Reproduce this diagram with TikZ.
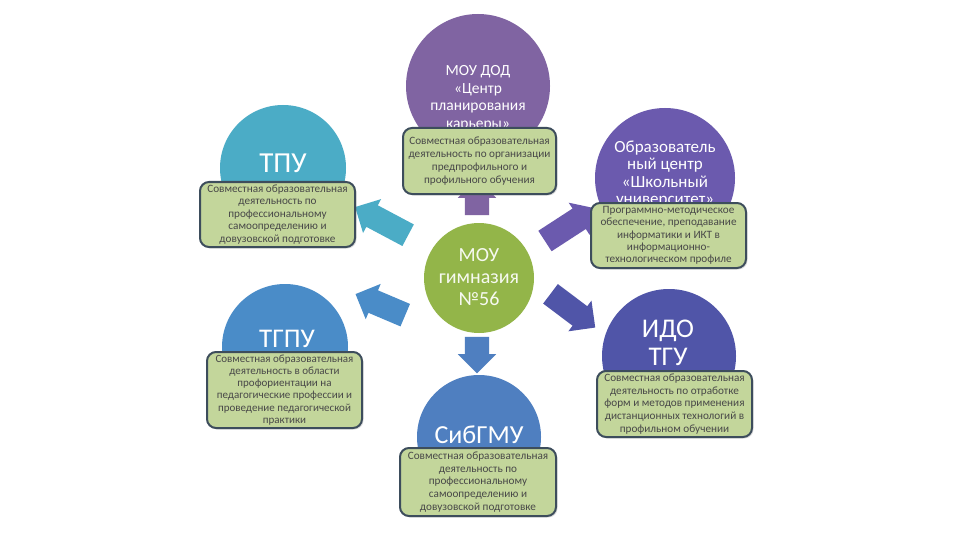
\documentclass[tikz,border=0pt]{standalone}
\usepackage{fontspec}
\setmainfont{Carlito}
\usetikzlibrary{shapes.arrows,shadows}
\definecolor{cgreen}{HTML}{93B549}
\definecolor{cpurple}{HTML}{8064A2}
\definecolor{cteal}{HTML}{4BACC6}
\definecolor{cviolet}{HTML}{6B5AAE}
\definecolor{cblue}{HTML}{4A8CC8}
\definecolor{cindigo}{HTML}{5055A8}
\definecolor{cblue2}{HTML}{4F7FC0}
\definecolor{boxfill}{HTML}{C3D69B}
\definecolor{boxline}{HTML}{3D4D5C}
\definecolor{boxtext}{HTML}{484848}
\tikzset{
  disc/.style={circle, draw=none, fill=#1, inner sep=0pt},
  blk/.style={single arrow, draw=none, fill=#1, inner sep=12pt, single arrow head extend=7pt, minimum height=60pt},
  infobox/.style={rectangle, rounded corners=9pt, draw=boxline, line width=2pt, fill=boxfill,
    text=boxtext, align=center, inner sep=1pt, font=\fontsize{11.2}{13}\selectfont,
    drop shadow={opacity=0.25, shadow xshift=1.5pt, shadow yshift=-1.5pt}},
  bigtxt/.style={text=white, align=center, font=\fontsize{27}{28}\selectfont},
  midtxt/.style={text=white, align=center},
}
\begin{document}
\begin{tikzpicture}[x=1pt,y=-1pt]
\useasboundingbox[fill=white] (0,0) rectangle (960,540);
% outer circles
\node[disc=cpurple, minimum size=144pt] (ctop) at (478,86) {};
\node[disc=cteal, minimum size=126pt] (ctpu) at (283,168) {};
\node[disc=cviolet, minimum size=140pt] (cur) at (665,178) {};
\node[disc=cblue, minimum size=126pt] (ctgpu) at (285,347) {};
\node[disc=cindigo, minimum size=134pt] (cido) at (669,356) {};
\node[disc=cblue2, minimum size=124pt] (csib) at (479,437) {};
% circle labels
\node[midtxt, font=\fontsize{15.5}{17.5}\selectfont] (ttop) at (478,98) {МОУ ДОД\\«Центр\\планирования\\карьеры»};
\node[midtxt, font=\fontsize{17}{17.5}\selectfont] (tur) at (665,174) {Образователь\\ный центр\\«Школьный\\университет»};
\node[bigtxt, font=\fontsize{29}{30}\selectfont] (ttpu) at (283,163) {ТПУ};
\node[bigtxt] (ttgpu) at (287,339) {ТГПУ};
\node[bigtxt] (tido) at (668,343) {ИДО\\ТГУ};
\node[bigtxt, font=\fontsize{26}{28}\selectfont] (tsib) at (479,435) {СибГМУ};
% block arrows
\node[blk=cpurple, minimum height=34pt, rotate=90] (atop) at (477,203) {};
\node[blk=cteal, rotate=152] (atpu) at (387,224) {};
\node[blk=cviolet, rotate=33] (aur) at (565,228) {};
\node[blk=cblue, minimum height=54pt, rotate=157] (atgpu) at (386,307) {};
\node[blk=cindigo, minimum height=56pt, rotate=-37] (aido) at (568,307) {};
\node[blk=cblue2, minimum height=26pt, rotate=-90] (asib) at (477,349) {};
% centre
\node[disc=cgreen, minimum size=110pt] (centre) at (479,278) {};
\node[text=white!92!cgreen, align=center, font=\fontsize{20}{22}\selectfont] (tcentre) at (479,277) {МОУ\\гимназия\\№56};
% info boxes
\node[infobox, minimum width=153pt, minimum height=66pt] (btop) at (479.5,161)
  {Совместная образовательная\\деятельность по организации\\предпрофильного и\\профильного обучения};
\node[infobox, minimum width=155pt, minimum height=65pt, font=\fontsize{11.2}{12.4}\selectfont] (btpu) at (277.5,214.5)
  {Совместная образовательная\\деятельность по\\профессиональному\\самоопределению и\\довузовской подготовке};
\node[infobox, minimum width=155pt, minimum height=65pt, font=\fontsize{11.2}{12.4}\selectfont] (bur) at (668.5,235.5)
  {Программно-методическое\\обеспечение, преподавание\\информатики и ИКТ в\\информационно-\\технологическом профиле};
\node[infobox, minimum width=155pt, minimum height=76pt, font=\fontsize{11}{12.2}\selectfont] (btgpu) at (284.5,390)
  {Совместная образовательная\\деятельность в области\\профориентации на\\педагогические профессии и\\проведение педагогической\\практики};
\node[infobox, minimum width=155pt, minimum height=66pt, font=\fontsize{11.2}{12.6}\selectfont] (bido) at (674.5,404)
  {Совместная образовательная\\деятельность по отработке\\форм и методов применения\\дистанционных технологий в\\профильном обучении};
\node[infobox, minimum width=156pt, minimum height=68pt, font=\fontsize{11.2}{12.8}\selectfont] (bsib) at (478,482)
  {Совместная образовательная\\деятельность по\\профессиональному\\самоопределению и\\довузовской подготовке};
\end{tikzpicture}
\end{document}
